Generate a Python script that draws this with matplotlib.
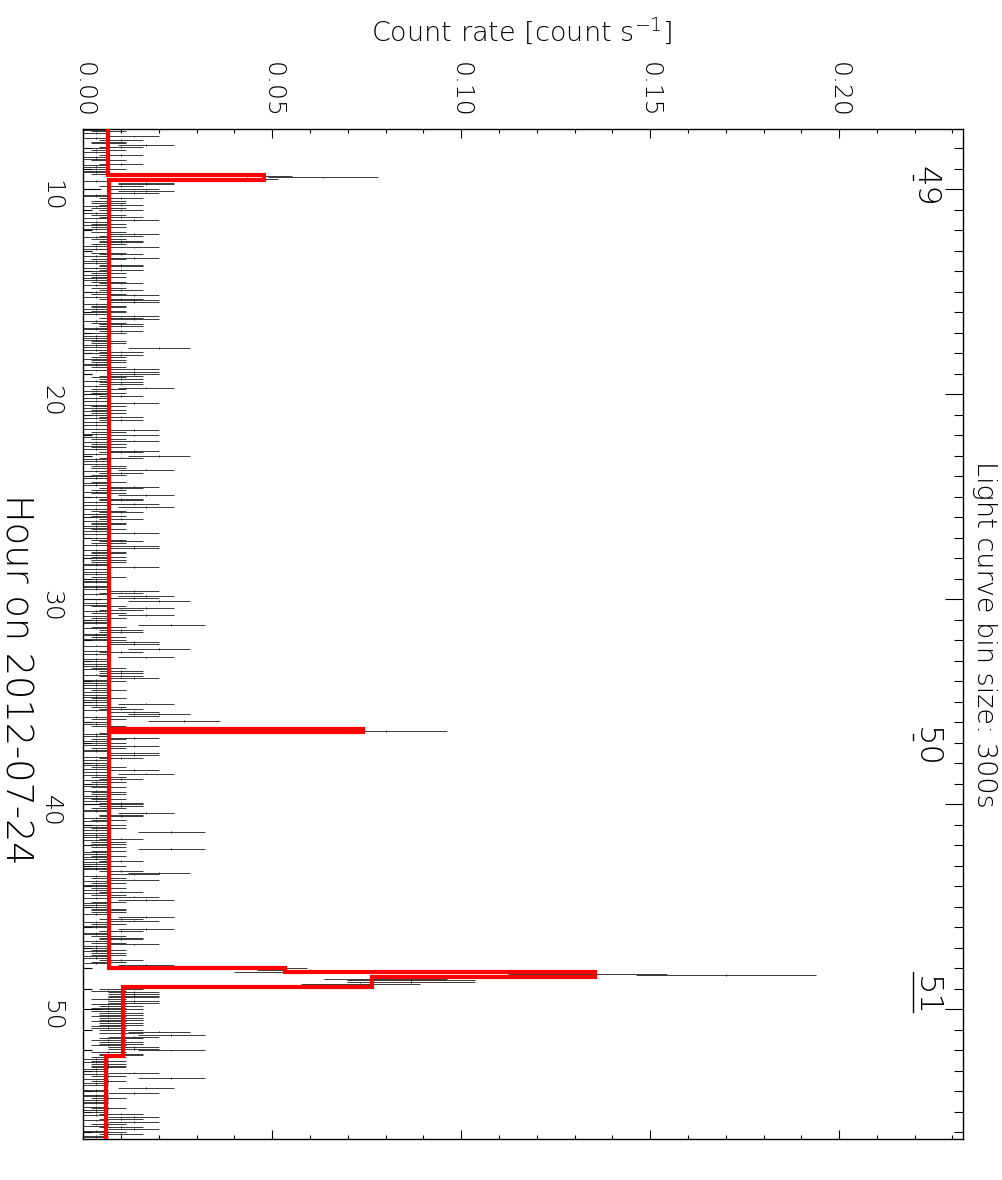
import numpy as np
import matplotlib
matplotlib.use("Agg")
import matplotlib.pyplot as plt
from matplotlib.ticker import MultipleLocator, FormatStrFormatter

plt.rcParams['font.family'] = ['DejaVu Sans']
plt.rcParams['font.weight'] = 'light'

# ---------------- data ----------------
# light-curve: counts per 300 s bin, bins start at 7.10 h (bin centre)
bin_start_hour = 7.10
bin_size_s = 300.0

counts_07_19h = [1,2,1,0,4,1,3,2,2,5,3,1,2,1,0,3,1,1,2,0,3,1,1,2,1,1,2,
                 13,19,12,
                 1,5,5,3,0,4,5,4,1,1, 3,0,2,2,3,1,2,3,0,1, 2,3,1,4,1,2,1,2,1,0,
                 2,4,3,1,2,3,3,2,1,4, 1,0,2,3,1,4,2,1,1,3, 3,1,3,1,2,1,2,1,1,2,
                 3,1,0,2,3,1,2,4,1,3, 4,4,1,2,2,1,2,2,1,4, 3,4,1,2,3,3,1,1,3,2,
                 0,1,1,1,2,2,1,1,6,1, 3,1,3,2,1,2,2,1,1,2, 4,1,4,4,3,2]
counts_19_31h = [3,1,3,3,1,5,2,1,2,1, 3,1,0,1,4,1,2,1,2,1, 2,1,3,1,3,1,0,1,0,1,
                 4,2,1,4,1,2,4,1,2,1, 2,1,4,3,1,6,3,1,1,0, 1,2,2,5,1,3,2,1,1,0,
                 2,1,1,4,3,2,1,2,5,1, 3,3,1,4,1,5,1,2,3,1, 2,1,3,1,2,2,1,1,2,1,
                 4,1,0,1,2,3,2,1,4,4, 1,2,2,1,2,1,2,2,1,1, 4,1,0,1,1,0,2,1,1,1,
                 0,1,1,1,4,3,1,5,4,1, 6,1,1,2,5,3,1,2,5,1, 2,1,1,1,7,2]
counts_31_43h = [1,3,3,1,1,2,1,2,4,4, 1,0,6,1,3,1,0,5,1,1, 0,1,1,2,1,3,3,1,3,4,
                 1,2,1,1,0,1,2,1,0,1, 1,2,1,1,5,1,2,3,1,4, 6,4,1,2,8,1,1,2,4,4,
                 24,3,1,1,4,2,1,2,1,4, 2,1,1,4,4,1,3,1,0,1, 1,2,1,4,1,5,1,2,3,1,
                 2,1,1,2,0,1,2,2,1,1, 2,1,3,3,3,2,1,1,5,3, 3,1,2,1,0,2,1,2,1,7,
                 1,1,1,3,1,2,2,1,2,7, 2,1,1,2,1,1,3,1,1,2, 1,1,3,6,4,1]
counts_43_56h = [2,4,1,2,1,1,2,1,3,1, 2,4,1,5,2,1,1,1,2,2, 2,1,0,5,3,4,1,2,1,1,
                 5,3,1,1,2,3,3,1,2,4, 1,1,2,1,2,2,1,1,3,2, 1,5,6,
                 14,18,16,40,51,32,24,26,26,22,17,6,
                 3,2,4,4,4,4,2,4,4,2, 3,2,3,2,3,3,2,3,3,2, 3,3,2,2,3,6,3,7,4,3,
                 2,3,3,2,4,4,7,2,3,3,2,
                 1,2,1,2,2,2,1,1,4,1, 2,7,1,2,1,1,0,5,1,1, 4,1,1,2,1,1,1,0,1,2,
                 1,1,3,1,4,3,1,4,2,1, 3,4,1,2,3,1,1]

# Bayesian-block style step curve (hour edges and rates)
block_edges_hour = [7.0, 9.317, 9.561, 36.34, 36.49, 48.01, 48.21, 48.46, 48.91, 52.31, 56.40]
block_rates = [0.00646, 0.0478, 0.00672, 0.0740, 0.0068, 0.0534, 0.1354, 0.0765, 0.01058, 0.00593]

# observation labels on the upper time axis
obs_labels = ["49", "50", "51"]
obs_label_hour = [9.85, 37.22, 49.37]
obs_bar_start = [9.32, 36.59, 48.20]
obs_bar_end = [9.56, 36.88, 50.15]

x_ticks = [0.00, 0.05, 0.10, 0.15, 0.20]

# ---------------- derived ----------------
counts = np.array(counts_07_19h + counts_19_31h + counts_31_43h + counts_43_56h, dtype=float)
hours = bin_start_hour + np.arange(len(counts)) * bin_size_s / 3600.0
rate = counts / bin_size_s
rate_err = np.sqrt(counts) / bin_size_s
half_bin = bin_size_s / 2 / 3600.0

# ---------------- figure ----------------
W, H = 1003, 1180
fig = plt.figure(figsize=(W / 100, H / 100), dpi=100)
L, R, T, B = 83.3, 962.7, 129.0, 1139.0
ax = fig.add_axes([L / W, 1 - B / H, (R - L) / W, (B - T) / H])

ax.errorbar(rate, hours, xerr=rate_err, yerr=half_bin, fmt='none',
            ecolor='#1a1a1a', elinewidth=0.6, capsize=0, zorder=2)
ax.stairs(block_rates, block_edges_hour, orientation='horizontal', baseline=None,
          color='#ff0000', lw=3.0, zorder=3)

ax.set_xlim(0, 0.2327)
ax.set_ylim(56.34, 7.07)

for lab, th, t1, t2 in zip(obs_labels, obs_label_hour, obs_bar_start, obs_bar_end):
    ax.text(0.2229, th, lab, rotation=-90, ha='center', va='center', fontsize=23)
    ax.plot([0.2195, 0.2195], [t1, t2], color='black', lw=1.0)

# ticks
ax.xaxis.set_major_locator(MultipleLocator(0.05))
ax.xaxis.set_minor_locator(MultipleLocator(0.01))
ax.xaxis.set_major_formatter(FormatStrFormatter('%.2f'))
ax.yaxis.set_major_locator(MultipleLocator(10))
ax.yaxis.set_minor_locator(MultipleLocator(1))
ax.tick_params(axis='x', which='both', direction='in', top=True, bottom=True,
               labeltop=True, labelbottom=False, labelrotation=-90, labelsize=18, pad=8)
ax.tick_params(axis='x', which='major', length=6.5, width=0.8)
ax.tick_params(axis='x', which='minor', length=3.2, width=0.8)
ax.tick_params(axis='y', which='both', direction='in', left=True, right=True,
               labelleft=True, labelright=False, labelrotation=-90, labelsize=18, pad=14.5)
ax.tick_params(axis='y', which='major', length=13, width=0.8)
ax.tick_params(axis='y', which='minor', length=6.5, width=0.8)
ax.set_xticks(x_ticks)
for sp in ax.spines.values():
    sp.set_linewidth(1.0)

fig.text(522 / W, 1 - 31 / H, 'Count rate [count s$^{-1}$]', ha='center', va='center', fontsize=19.5)
fig.text(16 / W, 1 - 679 / H, 'Hour on 2012-07-24', rotation=-90, ha='center', va='center', fontsize=26.5)
fig.text(985 / W, 1 - 634 / H, 'Light curve bin size: 300s', rotation=-90, ha='center', va='center', fontsize=19.5)

fig.savefig('out.png', dpi=100)
